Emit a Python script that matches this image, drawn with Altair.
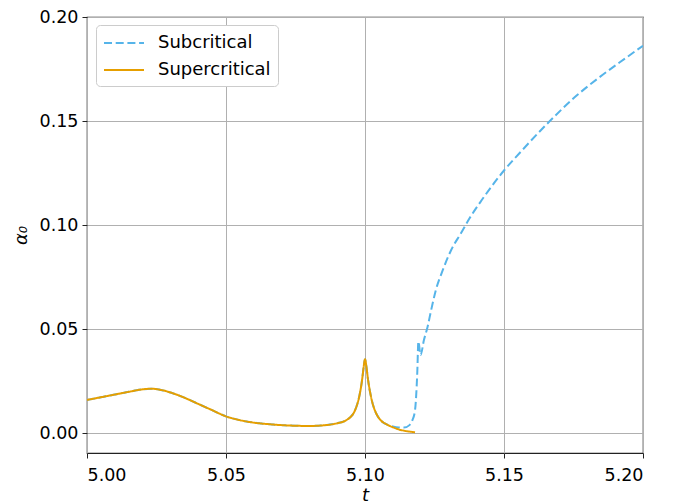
import altair as alt
import pandas as pd

# Shared early part of both runs (t, alpha_0)
t_common = [5.000, 5.005, 5.010, 5.015, 5.020, 5.023, 5.027, 5.030, 5.035, 5.040,
            5.045, 5.050, 5.055, 5.060, 5.065, 5.070, 5.075, 5.080, 5.085, 5.090,
            5.093, 5.095, 5.096, 5.097, 5.098, 5.099, 5.0995, 5.100, 5.1005, 5.101,
            5.102, 5.103, 5.104, 5.105, 5.106, 5.108]
a_common = [0.0159, 0.0172, 0.0185, 0.0198, 0.0210, 0.0213, 0.0206, 0.0195, 0.0170, 0.0140,
            0.0110, 0.0080, 0.0062, 0.0050, 0.0043, 0.0038, 0.0035, 0.0034, 0.0037, 0.0047,
            0.0060, 0.0080, 0.0098, 0.0130, 0.0180, 0.0260, 0.0315, 0.0355, 0.0320, 0.0265,
            0.0185, 0.0130, 0.0095, 0.0072, 0.0057, 0.0040]

# Supercritical tail
t_super = [5.110, 5.112, 5.115, 5.118]
a_super = [0.0028, 0.0018, 0.0009, 0.0004]

# Subcritical tail
t_sub = [5.110, 5.112, 5.114, 5.116, 5.117, 5.118, 5.1188, 5.1192, 5.1200, 5.1212,
         5.1225, 5.1237, 5.1255, 5.128, 5.131, 5.1345, 5.1375, 5.142, 5.1486, 5.1576,
         5.1665, 5.1755, 5.1845, 5.1935, 5.200]
a_sub = [0.0032, 0.0027, 0.0026, 0.0038, 0.0060, 0.0110, 0.0290, 0.0440, 0.0375, 0.0447,
         0.0510, 0.0585, 0.0688, 0.0784, 0.0880, 0.0960, 0.1030, 0.1120, 0.1239, 0.1375,
         0.1500, 0.1615, 0.1712, 0.1800, 0.1862]

series_names = ["Subcritical", "Supercritical"]
series_colors = ["#56B4E9", "#E69F00"]

rows = []
for i, (t, a) in enumerate(zip(t_common + t_sub, a_common + a_sub)):
    rows.append({"t": t, "a": a, "series": "Subcritical", "order": i})
for i, (t, a) in enumerate(zip(t_common + t_super, a_common + a_super)):
    rows.append({"t": t, "a": a, "series": "Supercritical", "order": i})
df = pd.DataFrame(rows)

font = "DejaVu Sans"

chart = alt.Chart(df).mark_line(strokeWidth=2, clip=True, interpolate="monotone").encode(
    x=alt.X("t:Q", scale=alt.Scale(domain=[5.0, 5.2], nice=False, zero=False),
            axis=alt.Axis(values=[5.0, 5.05, 5.1, 5.15, 5.2], format=".2f",
                          title="t", titleFontStyle="italic", titleFontWeight="normal",
                          labelPadding=8, titlePadding=3)),
    y=alt.Y("a:Q", scale=alt.Scale(domain=[-0.0096, 0.20], nice=False, zero=False),
            axis=alt.Axis(values=[0.0, 0.05, 0.10, 0.15, 0.20], format=".2f",
                          title="α₀", titleFontStyle="italic", titleFontWeight="normal",
                          labelPadding=4, titlePadding=9)),
    color=alt.Color("series:N", scale=alt.Scale(domain=series_names, range=series_colors),
                    legend=alt.Legend(title=None, orient="none", legendX=9, legendY=8,
                                      fillColor="white", strokeColor="#cccccc",
                                      cornerRadius=4, padding=7,
                                      symbolType="M-1,0H3",
                                      symbolSize=400, symbolStrokeWidth=2,
                                      labelFont=font, labelFontSize=18,
                                      rowPadding=7, labelOffset=33)),
    strokeDash=alt.StrokeDash("series:N",
                              scale=alt.Scale(domain=series_names, range=[[8, 3.7], [1, 0]]),
                              legend=None),
    order="order:Q",
).properties(
    width=556, height=436,
    autosize=alt.AutoSizeParams(type="none"),
    padding={"left": 79, "top": 9, "right": 29, "bottom": 55},
).configure_view(
    stroke="#222222", strokeWidth=1.2
).configure_axis(
    labelFont=font, labelFontSize=17.5, labelColor="black",
    titleFont=font, titleFontSize=18, titleColor="black",
    domain=False, tickColor="#222222", tickSize=5, tickWidth=1,
    grid=True, gridColor="#b0b0b0", gridWidth=1,
)

chart.save("out.html", embed_options={"renderer": "svg", "actions": False})
